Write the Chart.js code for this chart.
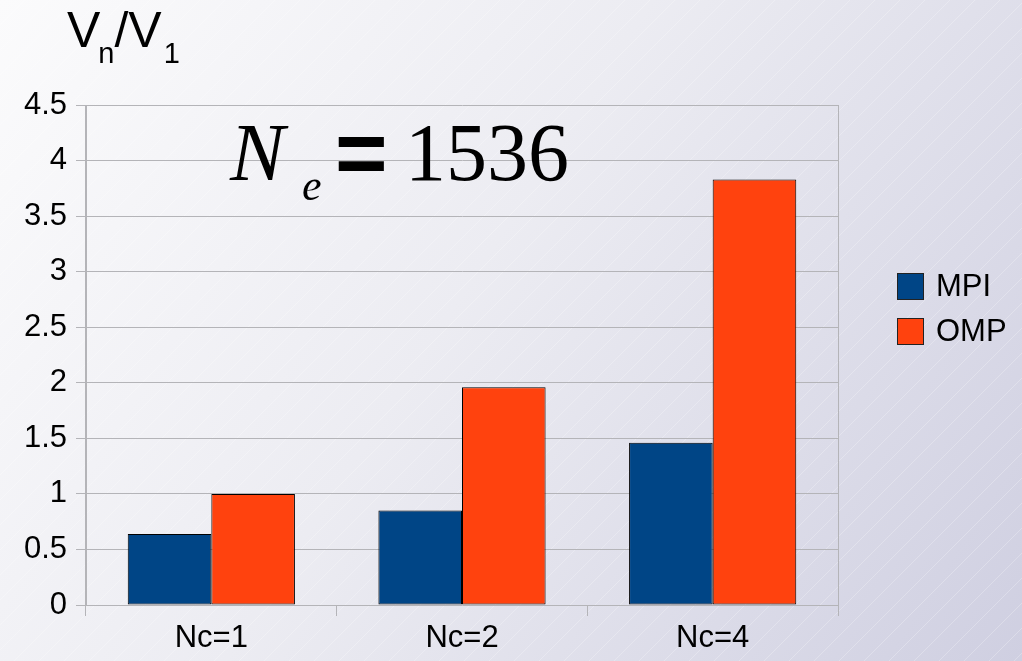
<!DOCTYPE html>
<html>
<head>
<meta charset="utf-8">
<script src="https://cdn.jsdelivr.net/npm/chart.js@4"></script>
<style>
  html, body { margin: 0; padding: 0; }
  body { width: 1022px; height: 661px; overflow: hidden; }
  #wrap { position: relative; width: 1022px; height: 661px; }
</style>
</head>
<body>
<div id="wrap"><canvas id="c" width="1022" height="661"></canvas></div>
<script>
// Speed-up ratio V_n / V_1 for Ne = 1536 elements
const categories = ['Nc=1', 'Nc=2', 'Nc=4'];
const mpiValues = [0.64, 0.85, 1.46];
const ompValues = [1.00, 1.96, 3.83];
const seriesNames = ['MPI', 'OMP'];
const yTickValues = [0, 0.5, 1, 1.5, 2, 2.5, 3, 3.5, 4, 4.5];

const MPI_COLOR = '#004586';
const OMP_COLOR = '#ff420e';
const GRID = '#b4b4b8';
const FONT = '"Liberation Sans", Arial, sans-serif';
const SERIF = '"Liberation Serif", "Times New Roman", serif';

// Gradient page background with faint diagonal hatching
const backdrop = {
  id: 'backdrop',
  beforeDraw(chart) {
    const { ctx, width, height } = chart;
    ctx.save();
    const g = ctx.createLinearGradient(0, 0, width, height);
    g.addColorStop(0, '#fbfbfc');
    g.addColorStop(0.45, '#ececf2');
    g.addColorStop(1, '#cfcfe1');
    ctx.fillStyle = g;
    ctx.fillRect(0, 0, width, height);
    ctx.strokeStyle = 'rgba(255,255,255,0.25)';
    ctx.lineWidth = 1;
    ctx.beginPath();
    for (let x = -height; x < width + height; x += 25) {
      ctx.moveTo(x, height);
      ctx.lineTo(x + height, 0);
    }
    ctx.stroke();
    ctx.restore();
  }
};

// Axis caption, in-plot annotation and the side legend
const annotations = {
  id: 'annotations',
  afterDraw(chart) {
    const { ctx } = chart;
    ctx.save();
    ctx.fillStyle = '#000';
    ctx.textBaseline = 'alphabetic';
    ctx.textAlign = 'left';

    // V_n / V_1
    let x = 67;
    ctx.font = '50px ' + FONT;
    ctx.fillText('V', x, 47); x += ctx.measureText('V').width;
    ctx.font = '29px ' + FONT;
    ctx.fillText('n', x - 2, 63); x += ctx.measureText('n').width - 2;
    ctx.font = '50px ' + FONT;
    ctx.fillText('/V', x, 47); x += ctx.measureText('/V').width;
    ctx.font = '29px ' + FONT;
    ctx.fillText('1', x + 2, 63);

    // N_e = 1536
    ctx.font = 'italic 82px ' + SERIF;
    ctx.fillText('N', 230, 180);
    ctx.font = 'italic 44px ' + SERIF;
    ctx.fillText('e', 302, 200);
    ctx.font = 'bold 90px ' + FONT;
    ctx.fillText('=', 335, 184);
    ctx.font = '82px ' + SERIF;
    ctx.fillText('1536', 405, 180);

    // legend
    const ds = chart.data.datasets;
    const boxX = 897, boxTop = [273, 318], box = 27;
    ds.forEach((d, i) => {
      ctx.fillStyle = d.backgroundColor;
      ctx.fillRect(boxX, boxTop[i], box, box);
      ctx.strokeStyle = '#222';
      ctx.lineWidth = 1;
      ctx.strokeRect(boxX + 0.5, boxTop[i] + 0.5, box - 1, box - 1);
      ctx.fillStyle = '#000';
      ctx.font = '31px ' + FONT;
      ctx.textBaseline = 'middle';
      ctx.fillText(d.label, 936, boxTop[i] + box / 2 + 1);
    });
    ctx.restore();
  }
};

new Chart(document.getElementById('c'), {
  type: 'bar',
  data: {
    labels: categories,
    datasets: [
      { label: seriesNames[0], data: mpiValues, backgroundColor: MPI_COLOR, borderColor: '#000', borderWidth: 1, borderSkipped: false },
      { label: seriesNames[1], data: ompValues, backgroundColor: OMP_COLOR, borderColor: '#000', borderWidth: 1, borderSkipped: false }
    ]
  },
  options: {
    responsive: false,
    animation: false,
    events: [],
    layout: { padding: { top: 105, right: 184, bottom: 0, left: 0 } },
    datasets: { bar: { categoryPercentage: 0.667, barPercentage: 1.0 } },
    plugins: { legend: { display: false }, tooltip: { enabled: false }, title: { display: false } },
    scales: {
      x: {
        offset: true,
        grid: {
          offset: true,
          drawOnChartArea: true,
          color: (c) => (c.type === 'tick' && c.index > 0) ? 'transparent' : GRID,
          tickColor: GRID,
          tickLength: 11,
          lineWidth: 1
        },
        border: { display: false },
        ticks: { color: '#000', font: { family: FONT, size: 31 }, padding: 4, maxRotation: 0 },
        afterFit(s) { s.height = 56; }
      },
      y: {
        min: 0,
        max: 4.5,
        afterBuildTicks(s) { s.ticks = yTickValues.map(v => ({ value: v })); },
        grid: { color: GRID, tickColor: GRID, tickLength: 10, lineWidth: 1 },
        border: { display: true, color: GRID },
        ticks: { color: '#000', font: { family: FONT, size: 31 }, padding: 9, callback: (v) => String(v) },
        afterFit(s) { s.width = 86; }
      }
    }
  },
  plugins: [backdrop, annotations]
});
</script>
</body>
</html>
